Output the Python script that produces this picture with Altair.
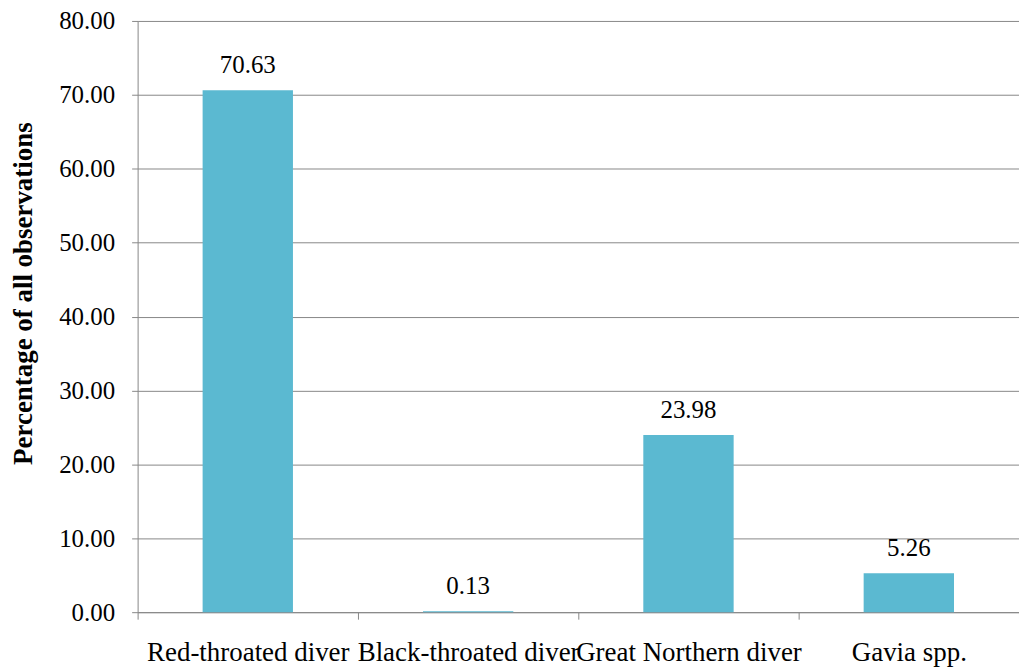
import altair as alt
import pandas as pd

categories = ["Red-throated diver", "Black-throated diver", "Great Northern diver", "Gavia spp."]
values = [70.63, 0.13, 23.98, 5.26]
labels = ["70.63", "0.13", "23.98", "5.26"]

df = pd.DataFrame({"species": categories, "pct": values, "label": labels})

FONT = "Times New Roman, Liberation Serif, DejaVu Serif, serif"
FS = 25

x = alt.X("species:N", sort=categories, title=None,
          scale=alt.Scale(paddingInner=0, paddingOuter=0),
          axis=alt.Axis(labelAngle=0, tickBand="extent", ticks=True, tickSize=7,
                        tickColor="#888888", domainColor="#888888",
                        labelFont=FONT, labelFontSize=27, labelColor="black",
                        labelPadding=20, labelOverlap=False, labelLimit=0, grid=False))
y = alt.Y("pct:Q", title="Percentage of all observations",
          scale=alt.Scale(domain=[0, 80], nice=False),
          axis=alt.Axis(values=list(range(0, 81, 10)), format=".2f",
                        tickSize=6, tickColor="#888888", domainColor="#888888",
                        gridColor="#888888", gridWidth=1,
                        labelFont=FONT, labelFontSize=FS, labelColor="black",
                        labelPadding=17, titleFont=FONT, titleFontSize=27,
                        titleFontWeight="bold", titleColor="black",
                        titleAngle=270, titleX=-114, titleY=273,
                        titleBaseline="middle", titleAlign="center"))

bars = alt.Chart(df).mark_bar(color="#5BB9D1", width=alt.RelativeBandSize(0.41)).encode(x=x, y=y)
text = alt.Chart(df).mark_text(font=FONT, fontSize=FS, baseline="alphabetic", dy=-17, color="black").encode(
    x=alt.X("species:N", sort=categories), y="pct:Q", text="label:N")

chart = (bars + text).properties(
    width=884, height=593,
    autosize=alt.AutoSizeParams(type="none"),
    padding={"left": 130, "top": 12, "right": 0, "bottom": 56},
).configure_view(stroke=None)

chart.save("out.html", embed_options={"renderer": "svg", "actions": False})
